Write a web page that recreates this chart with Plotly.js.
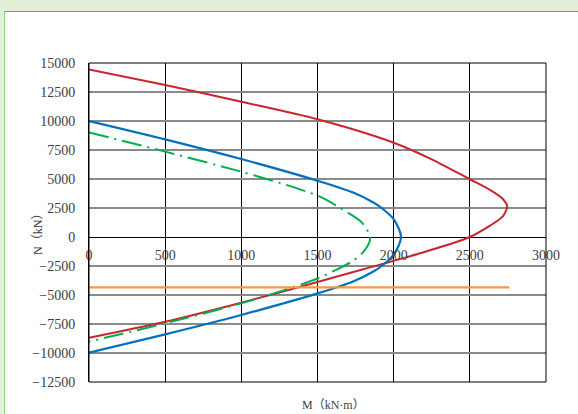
<!DOCTYPE html>
<html>
<head>
<meta charset="utf-8">
<script src="https://cdn.plot.ly/plotly-3.0.1.min.js"></script>
<style>
  html, body { margin: 0; padding: 0; width: 578px; height: 414px; overflow: hidden; background: #e2efd9; }
  #frame { position: absolute; left: 4px; top: 11px; width: 600px; height: 420px; background: #ffffff;
           border-top: 1px solid #4fb55a; border-left: 1px solid #8fd68f; }
  #chart { position: absolute; left: 0; top: 0; width: 578px; height: 414px; }
</style>
</head>
<body>
<div id="frame"></div>
<div id="chart"></div>
<script>
// Interaction curves: M (kN·m) vs N (kN)
const redM   = [0, 500, 1000, 1500, 2000, 2250, 2497, 2640, 2715, 2745, 2718, 2635, 2500, 2173, 1800, 1500, 1000, 500, 0];
const redN   = [14450, 13100, 11660, 10150, 8130, 6700, 5000, 4000, 3300, 2650, 1800, 1000, 0, -1405, -2780, -3880, -5660, -7300, -8680];

const blueM  = [0, 500, 1000, 1500, 1730, 1870, 1921, 2002, 2048, 2002, 1921, 1870, 1730, 1500, 1000, 500, 0];
const blueN  = [10000, 8420, 6720, 4850, 3850, 2950, 2500, 1500, 0, -1500, -2500, -2950, -3850, -4860, -6720, -8390, -9970];

const greenM = [0, 500, 1000, 1300, 1516, 1669, 1795, 1846, 1800, 1720, 1604, 1500, 1300, 1000, 500, 0];
const greenN = [9020, 7360, 5630, 4470, 3475, 2330, 1200, -100, -1300, -2150, -2950, -3580, -4500, -5720, -7440, -9020];

const orangeM = [0, 2760];
const orangeN = [-4340, -4340];

const xTicks = [0, 500, 1000, 1500, 2000, 2500, 3000];
const yTicks = [15000, 12500, 10000, 7500, 5000, 2500, 0, -2500, -5000, -7500, -10000, -12500];
const xTitle = 'M\uFF08kN·m\uFF09';
const yTitle = 'N\uFF08kN\uFF09';

const tickFont = { family: 'Liberation Serif, Times New Roman, serif', size: 14, color: '#404040' };

const traces = [
  { x: redM, y: redN, mode: 'lines', line: { color: '#c9252c', width: 2, shape: 'spline', smoothing: 0.8 }, hoverinfo: 'skip' },
  { x: blueM, y: blueN, mode: 'lines', line: { color: '#0070c0', width: 2.2, shape: 'spline', smoothing: 0.8 }, hoverinfo: 'skip' },
  { x: greenM, y: greenN, mode: 'lines', line: { color: '#00b050', width: 2, shape: 'spline', smoothing: 0.8, dash: '20px,6px,2px,6px' }, hoverinfo: 'skip' },
  { x: orangeM, y: orangeN, mode: 'lines', line: { color: '#f79646', width: 2.4 }, hoverinfo: 'skip' }
];

const yMin = -12500, yMax = 15000;
const layout = {
  width: 578, height: 414,
  margin: { l: 89, r: 32, t: 63, b: 32, pad: 0 },
  paper_bgcolor: 'rgba(0,0,0,0)',
  plot_bgcolor: '#ffffff',
  showlegend: false,
  xaxis: {
    range: [0, 3000], tickvals: xTicks, ticktext: xTicks.map(String),
    showgrid: true, gridcolor: '#000000', gridwidth: 1,
    zeroline: false, showline: false, ticks: '',
    anchor: 'free', position: (0 - yMin) / (yMax - yMin),
    tickfont: tickFont, ticklabelstandoff: 8, fixedrange: true
  },
  yaxis: {
    range: [yMin, yMax], tickvals: yTicks, ticktext: yTicks.map(v => v < 0 ? '\u2212' + Math.abs(v) : String(v)),
    showgrid: true, gridcolor: '#8a8a8a', gridwidth: 1.3,
    zeroline: true, zerolinecolor: '#000000', zerolinewidth: 1,
    showline: true, linecolor: '#000000', linewidth: 1, ticks: '',
    tickfont: tickFont, ticklabelstandoff: 10, fixedrange: true
  },
  shapes: [
    { type: 'rect', xref: 'paper', yref: 'paper', x0: 0, x1: 1, y0: 0, y1: 1, line: { color: '#000000', width: 1 } }
  ],
  annotations: [
    { text: xTitle, xref: 'paper', yref: 'paper', x: 0.534, y: -0.072, xanchor: 'center', yanchor: 'middle', showarrow: false,
      font: { family: 'Liberation Serif, Noto Sans CJK SC, serif', size: 12, color: '#404040' } },
    { text: yTitle, xref: 'paper', yref: 'paper', x: -0.112, y: 0.473, xanchor: 'center', yanchor: 'middle', showarrow: false, textangle: -90,
      font: { family: 'Liberation Serif, Noto Sans CJK SC, serif', size: 12, color: '#404040' } }
  ]
};

Plotly.newPlot('chart', traces, layout, { staticPlot: true, displayModeBar: false });
</script>
</body>
</html>
